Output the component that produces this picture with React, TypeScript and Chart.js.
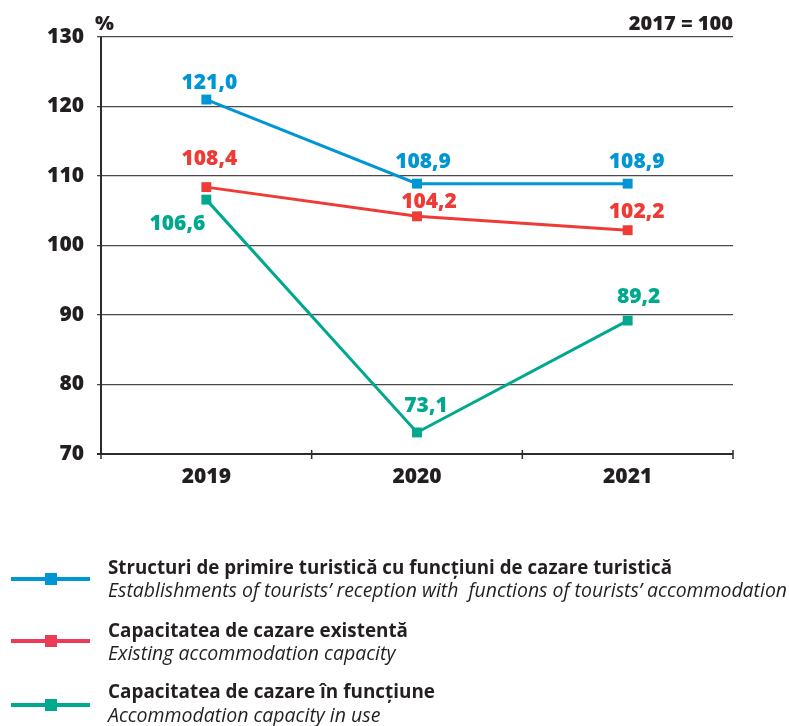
import React, { useEffect, useRef } from "react";
import { Chart, registerables } from "chart.js";

Chart.register(...registerables);

const categories = ["2019", "2020", "2021"];
const structuri = [121.0, 108.9, 108.9];
const capacitateExistenta = [108.4, 104.2, 102.2];
const capacitateFunctiune = [106.6, 73.1, 89.2];
const yMin = 70;
const yMax = 130;
const yStep = 10;

const seriesNamesRo = [
  "Structuri de primire turistică cu funcțiuni de cazare turistică",
  "Capacitatea de cazare existentă",
  "Capacitatea de cazare în funcțiune",
];
const seriesNamesEn = [
  "Establishments of tourists’ reception with  functions of tourists’ accommodation",
  "Existing accommodation capacity",
  "Accommodation capacity in use",
];

// styling
const BLUE = "#0096d6";
const RED = "#ee3b36";
const GREEN = "#00a88e";
const LEGEND_COLORS = [BLUE, "#ec3b57", GREEN];
const TEXT = "#231f20";
const FONT = "'Open Sans', 'DejaVu Sans', sans-serif";

// label placement offsets (dx, baseline dy) relative to each point, per series
const labelOffsets = [
  [[3, -11], [6, -16], [9, -16]],
  [[3, -22], [12, -8], [9, -12]],
  [[-29, 30], [9, -20], [11, -18]],
];

const legendLayout = [
  { lineY: 579, roY: 574, enY: 597, roW: 564, enW: 679 },
  { lineY: 641, roY: 637, enY: 660, roW: 300, enW: 288 },
  { lineY: 705, roY: 698, enY: 722, roW: 327, enW: 273 },
];

const fmt = (v: number) => v.toFixed(1).replace(".", ",");

const decorPlugin = {
  id: "decor",
  afterDatasetsDraw(chart: any) {
    const ctx = chart.ctx;
    const { left, right, top, bottom } = chart.chartArea;
    const xs = chart.scales.x;
    ctx.save();
    // axes
    ctx.strokeStyle = "#2b2b2b";
    ctx.lineWidth = 2;
    ctx.beginPath();
    ctx.moveTo(left, top);
    ctx.lineTo(left, bottom + 1);
    ctx.moveTo(left - 4, bottom);
    ctx.lineTo(right, bottom);
    ctx.stroke();
    // x ticks at category boundaries
    ctx.lineWidth = 1.5;
    ctx.beginPath();
    const n = categories.length;
    for (let i = 0; i <= n; i++) {
      let x;
      if (i === 0) x = left;
      else if (i === n) x = right;
      else x = (xs.getPixelForValue(i - 1) + xs.getPixelForValue(i)) / 2;
      ctx.moveTo(x, bottom - 4);
      ctx.lineTo(x, bottom + 5);
    }
    ctx.stroke();

    // data labels
    ctx.font = `800 21px ${FONT}`;
    ctx.textAlign = "center";
    ctx.textBaseline = "alphabetic";
    chart.data.datasets.forEach((ds: any, di: number) => {
      const meta = chart.getDatasetMeta(di);
      const offs = labelOffsets[ds.seriesIndex];
      ctx.fillStyle = ds.borderColor;
      meta.data.forEach((pt: any, i: number) => {
        const [dx, dy] = offs[i];
        ctx.fillText(fmt(ds.data[i]), pt.x + dx, pt.y + dy);
      });
    });

    // header texts
    ctx.fillStyle = TEXT;
    ctx.font = `800 20px ${FONT}`;
    ctx.textAlign = "left";
    ctx.fillText("%", 95, 30);
    ctx.textAlign = "right";
    ctx.fillText("2017 = 100", right, 30);

    // legend
    ctx.textAlign = "left";
    legendLayout.forEach((L, i) => {
      ctx.strokeStyle = LEGEND_COLORS[i];
      ctx.lineWidth = 4;
      ctx.beginPath();
      ctx.moveTo(11, L.lineY);
      ctx.lineTo(90, L.lineY);
      ctx.stroke();
      ctx.fillStyle = LEGEND_COLORS[i];
      ctx.fillRect(45, L.lineY - 6, 12, 12);
      ctx.fillStyle = TEXT;
      ctx.font = `bold 19px ${FONT}`;
      ctx.fillText(seriesNamesRo[i], 108, L.roY, L.roW);
      ctx.font = `italic 19.5px ${FONT}`;
      ctx.fillText(seriesNamesEn[i], 108, L.enY, L.enW);
    });
    ctx.restore();
  },
};

const mkDataset = (idx: number, data: number[], color: string, order: number) => ({
  label: seriesNamesRo[idx],
  seriesIndex: idx,
  data,
  order,
  borderColor: color,
  backgroundColor: color,
  borderWidth: 3,
  pointStyle: "rect",
  pointRadius: 7,
  pointBorderWidth: 0,
  pointBackgroundColor: color,
  tension: 0,
});

export default function App() {
  const ref = useRef<HTMLCanvasElement | null>(null);
  useEffect(() => {
    if (!ref.current) return;
    const chart = new Chart(ref.current, {
      type: "line",
      data: {
        labels: categories,
        datasets: [
          mkDataset(0, structuri, BLUE, 0),
          mkDataset(1, capacitateExistenta, RED, 0),
          mkDataset(2, capacitateFunctiune, GREEN, 1),
        ],
      },
      options: {
        animation: false,
        responsive: false,
        devicePixelRatio: 1,
        layout: { padding: { top: 37, left: 0, right: 56, bottom: 232 } },
        plugins: { legend: { display: false }, tooltip: { enabled: false } },
        scales: {
          x: {
            type: "category",
            offset: true,
            grid: { display: false, drawTicks: false },
            border: { display: false },
            ticks: {
              padding: 10,
              color: TEXT,
              font: { family: FONT, size: 21, weight: "800" },
            },
            afterFit: (s: any) => {
              s.height = 40;
            },
          },
          y: {
            min: yMin,
            max: yMax,
            grid: {
              color: "#4a4a4a",
              lineWidth: 1.3,
              drawTicks: true,
              tickLength: 4,
            },
            border: { display: false },
            ticks: {
              stepSize: yStep,
              padding: 13,
              color: TEXT,
              font: { family: FONT, size: 21, weight: "800" },
            },
            afterFit: (s: any) => {
              s.width = 101;
            },
          },
        },
      },
      plugins: [decorPlugin],
    });
    return () => chart.destroy();
  }, []);
  return (
    <div style={{ position: "absolute", left: 0, top: 0, width: 789, height: 726, background: "#fff" }}>
      <canvas ref={ref} width={789} height={726} style={{ display: "block" }} />
    </div>
  );
}
